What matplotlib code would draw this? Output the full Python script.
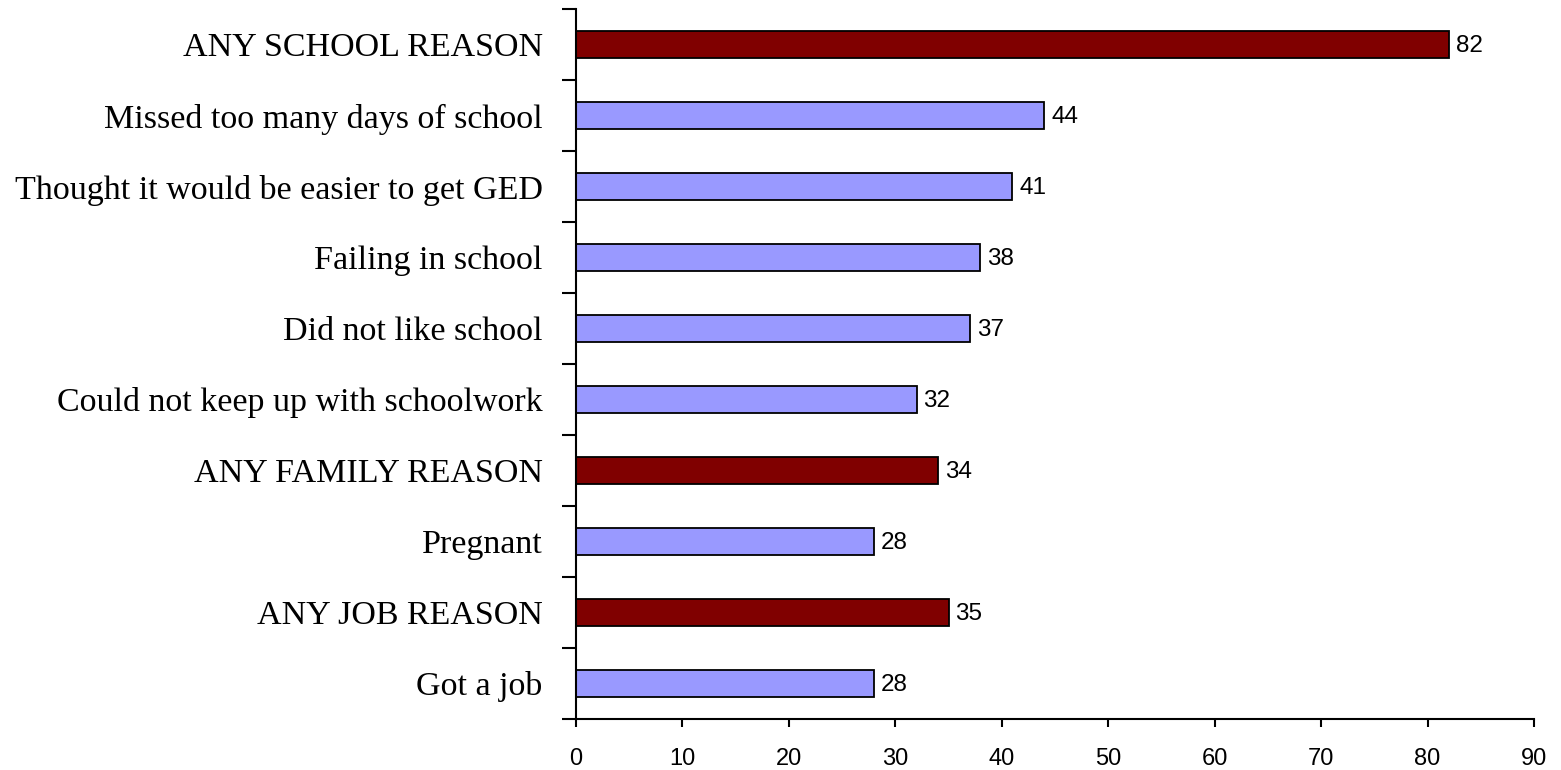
import matplotlib.pyplot as plt
import numpy as np
from matplotlib.ticker import FixedLocator, NullFormatter

categories = ["ANY SCHOOL REASON", "Missed too many days of school",
              "Thought it would be easier to get GED", "Failing in school",
              "Did not like school", "Could not keep up with schoolwork",
              "ANY FAMILY REASON", "Pregnant", "ANY JOB REASON", "Got a job"]
values = [82, 44, 41, 38, 37, 32, 34, 28, 35, 28]
is_summary = [True, False, False, False, False, False, True, False, True, False]
x_ticks = [0, 10, 20, 30, 40, 50, 60, 70, 80, 90]

W, H = 1561, 770
fig = plt.figure(figsize=(W / 100, H / 100), dpi=100)
ax = fig.add_axes([576 / W, 1 - 719 / H, (1534 - 576) / W, (719 - 9) / H])

n = len(categories)
ypos = np.arange(n)
colors = ["#800000" if s else "#9999FF" for s in is_summary]
ax.barh(ypos, values, height=0.39, color=colors, edgecolor="black", linewidth=1.3)
ax.set_ylim(n - 0.5, -0.5)
ax.set_xlim(0, 90)

ax.set_yticks(ypos)
ax.set_yticklabels(categories, family="Liberation Serif", fontsize=24.5)
ax.tick_params(axis="y", which="major", length=0, pad=24)
ax.yaxis.set_minor_locator(FixedLocator(np.arange(-0.5, n, 1.0)))
ax.yaxis.set_minor_formatter(NullFormatter())
ax.tick_params(axis="y", which="minor", length=10, width=1.5, direction="out")

ax.set_xticks(x_ticks)
ax.set_xticklabels([str(t) for t in x_ticks], family="Liberation Sans", fontsize=17)
ax.tick_params(axis="x", length=6, width=1.5, direction="out", pad=15)

for s in ["top", "right"]:
    ax.spines[s].set_visible(False)
for s in ["left", "bottom"]:
    ax.spines[s].set_linewidth(1.5)

for y, v in zip(ypos, values):
    ax.text(v + 0.65, y + 0.02, str(v), va="center", ha="left",
            family="Liberation Sans", fontsize=17.5)

fig.savefig("out.png", dpi=100)
